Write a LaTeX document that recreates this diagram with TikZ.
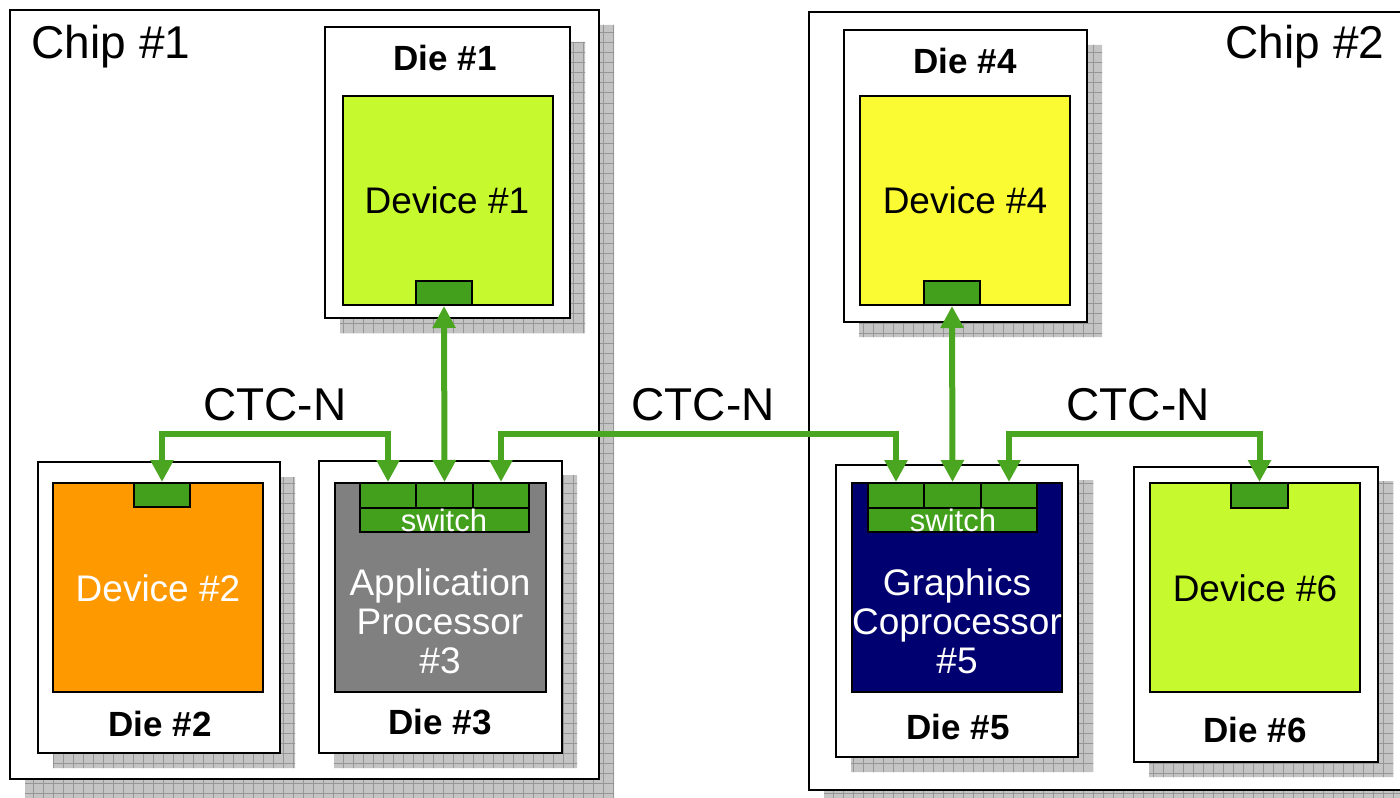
\documentclass[tikz,border=0pt]{standalone}
\usepackage{fontspec}
\setmainfont{Liberation Sans}
\usetikzlibrary{arrows.meta,fit}

\definecolor{limefill}{RGB}{198,250,46}
\definecolor{yellowfill}{RGB}{251,251,51}
\definecolor{orangefill}{RGB}{255,153,0}
\definecolor{grayfill}{RGB}{128,128,128}
\definecolor{navyfill}{RGB}{0,0,112}
\definecolor{portgreen}{RGB}{66,160,28}
\definecolor{linkgreen}{RGB}{74,165,32}
\definecolor{shadefill}{RGB}{196,196,196}
\definecolor{shadeline}{RGB}{150,150,150}

% grey grid shadow, clipped to the given rectangles
\newcommand\gridshade[1]{%
  \begin{scope}
    \clip #1;
    \fill[shadefill] (0,0) rectangle (1420,820);
    \foreach \g in {3,13,...,1413} {\draw[shadeline,line width=0.5pt] (\g,0) -- (\g,820);}
    \foreach \g in {3,13,...,813} {\draw[shadeline,line width=0.5pt] (0,\g) -- (1420,\g);}
  \end{scope}}

\begin{document}
\begin{tikzpicture}[x=0.5pt,y=-0.5pt,
  frame/.style={draw=black, line width=1.1pt, fill=white, inner sep=0pt},
  core/.style={draw=black, line width=1pt, inner sep=0pt},
  port/.style={draw=black, line width=1pt, fill=portgreen, inner sep=0pt},
  link/.style={draw=linkgreen, line width=3pt,
    {Triangle[width=11pt,length=11pt]}-{Triangle[width=11pt,length=11pt]}},
  chiptext/.style={font=\fontsize{23}{27}\selectfont},
  devtext/.style={font=\fontsize{18.5}{19.5}\selectfont, align=center},
  dietext/.style={font=\bfseries\fontsize{17.5}{20}\selectfont},
  bustext/.style={font=\fontsize{23}{27}\selectfont},
  swtext/.style={font=\fontsize{15.5}{17}\selectfont, text=white}]

\useasboundingbox (0,0) rectangle (1400,797);

% chip shadows and chips
\gridshade{(25,25) rectangle (614,820) (824,27) rectangle (1420,820)}
\node[frame, fit={(10,10) (599,779)}] (chip1) {};
\node[frame, fit={(809,12) (1420,790)}] (chip2) {};
\node[chiptext] (chip1lbl) at (111,47) {Chip \#1};
\node[chiptext] (chip2lbl) at (1305,47) {Chip \#2};

% die shadows
\gridshade{(340,42) rectangle (585,333) (859,45) rectangle (1102,337)
  (53,477) rectangle (295,768) (334,475) rectangle (577,768)
  (851,480) rectangle (1093,772) (1149,481) rectangle (1393,777)}

% Die #1
\node[frame, fit={(325,27) (570,318)}] (die1) {};
\node[core, fill=limefill, fit={(343,96) (553,305)}] (dev1) {};
\node[port, fit={(416,281) (472,305)}] (p1) {};
\node[dietext] (die1lbl) at (445,58) {Die \#1};
\node[devtext] (dev1lbl) at (447,200) {Device \#1};

% Die #4
\node[frame, fit={(844,30) (1087,322)}] (die4) {};
\node[core, fill=yellowfill, fit={(860,96) (1070,305)}] (dev4) {};
\node[port, fit={(924,281) (980,305)}] (p4) {};
\node[dietext] (die4lbl) at (965,61) {Die \#4};
\node[devtext] (dev4lbl) at (965,200) {Device \#4};

% Die #2
\node[frame, fit={(38,462) (280,753)}] (die2) {};
\node[core, fill=orangefill, fit={(53,483) (263,692)}] (dev2) {};
\node[port, fit={(134,483) (190,507)}] (p2) {};
\node[devtext, text=white] (dev2lbl) at (158,588) {Device \#2};
\node[dietext] (die2lbl) at (160,724) {Die \#2};

% Die #3 with switch
\node[frame, fit={(319,461) (562,753)}] (die3) {};
\node[core, fill=grayfill, fit={(335,483) (546,692)}] (dev3) {};
\node[port, fit={(360,483) (416,508)}] (s3a) {};
\node[port, fit={(416,483) (473,508)}] (s3b) {};
\node[port, fit={(473,483) (529,508)}] (s3c) {};
\node[port, fit={(360,508) (529,532)}] (s3sw) {};
\node[swtext] (s3lbl) at (444,520) {switch};
\node[devtext, text=white] (dev3lbl) at (440,621) {Application\\Processor\\\#3};
\node[dietext] (die3lbl) at (440,722) {Die \#3};

% Die #5 with switch
\node[frame, fit={(836,465) (1078,757)}] (die5) {};
\node[core, fill=navyfill, fit={(852,483) (1062,692)}] (dev5) {};
\node[port, fit={(868,483) (924,508)}] (s5a) {};
\node[port, fit={(924,483) (981,508)}] (s5b) {};
\node[port, fit={(981,483) (1037,508)}] (s5c) {};
\node[port, fit={(868,508) (1037,532)}] (s5sw) {};
\node[swtext] (s5lbl) at (953,520) {switch};
\node[devtext, text=white] (dev5lbl) at (957,621) {Graphics\\Coprocessor\\\#5};
\node[dietext] (die5lbl) at (958,727) {Die \#5};

% Die #6
\node[frame, fit={(1134,467) (1378,762)}] (die6) {};
\node[core, fill=limefill, fit={(1150,483) (1360,692)}] (dev6) {};
\node[port, fit={(1231,483) (1288,508)}] (p6) {};
\node[devtext] (dev6lbl) at (1255,588) {Device \#6};
\node[dietext] (die6lbl) at (1255,730) {Die \#6};

% interconnect
\coordinate (bus) at (0,434);
\draw[link] (p2.north) -- (p2.north |- bus) -| (s3a.north);
\draw[link] (s3b.north) -- (p1.south);
\draw[link] (s3c.north) -- (s3c.north |- bus) -| (s5a.north);
\draw[link] (s5b.north) -- (p4.south);
\draw[link] (s5c.north) -- (s5c.north |- bus) -| (p6.north);

\node[bustext] (bus1) at (275,405) {CTC-N};
\node[bustext] (bus2) at (703,405) {CTC-N};
\node[bustext] (bus3) at (1138,405) {CTC-N};
\end{tikzpicture}
\end{document}
